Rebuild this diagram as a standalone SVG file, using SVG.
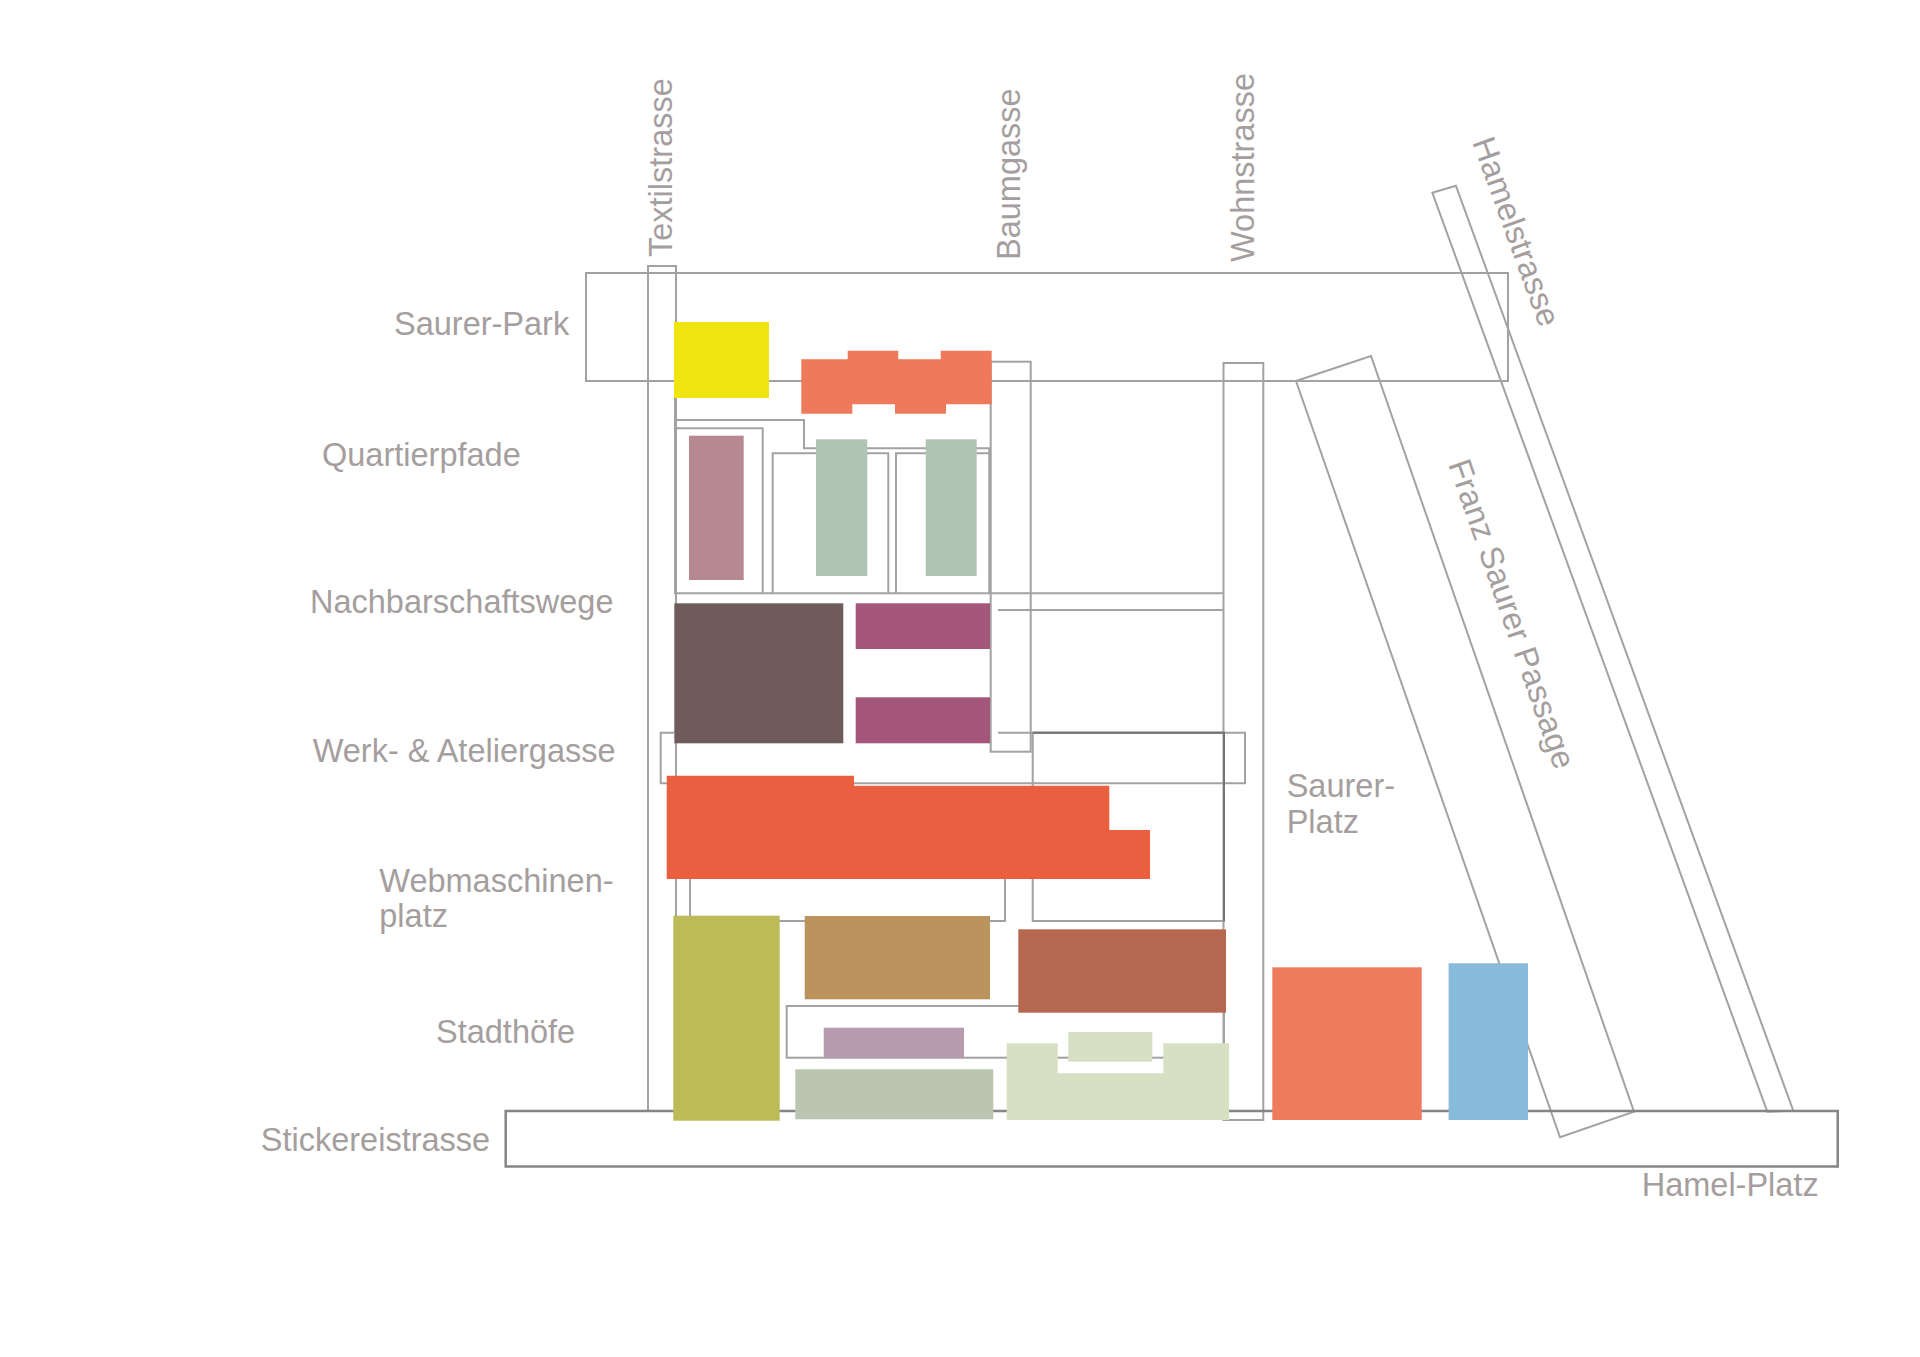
<svg xmlns="http://www.w3.org/2000/svg" width="1920" height="1357" viewBox="0 0 1920 1357">
<style>
.ln{fill:none;stroke:#a2a2a2;stroke-width:2}
.dk{fill:none;stroke:#737373;stroke-width:2}
.st{fill:none;stroke:#858585;stroke-width:2.5}
.lb{font-family:"Liberation Sans",Arial,sans-serif;font-size:32.5px;fill:#a59e9e}
</style>
<rect width="1920" height="1357" fill="#ffffff"/>
<g id="connectors">
  <rect id="saurer-park-area" class="ln" x="586" y="273" width="922" height="108"/>
  <rect id="textilstrasse-road" class="ln" x="648" y="266" width="28" height="845"/>
  <rect id="baumgasse-road" class="ln" x="990.7" y="361.7" width="40" height="390"/>
  <rect id="wohnstrasse-road" class="ln" x="1223.5" y="363" width="39.8" height="757"/>
  <path id="quartierpfade-a" class="ln" d="M675,398 V593.3 H1224"/>
  <path id="quartierpfade-b" class="ln" d="M675,428.3 V420 H804 V448.3 H989.3 V453.3"/>
  <path id="quartierpfade-c" class="ln" d="M675,428.3 H762.7 V593.3"/>
  <path id="quartierpfade-d" class="ln" d="M772.7,593.3 V453.3 H888.3 V593.3"/>
  <path id="quartierpfade-e" class="ln" d="M896,593.3 V453.3 H989.3 V593.3"/>
  <path id="nachbarschaftswege-path" class="ln" d="M998,610 H1224"/>
  <path id="werk-gasse" class="ln" d="M674,732.7 H660.7 V783.3 H1245 V732.7 H998"/>
  <path id="webmaschinenplatz-outline" class="ln" d="M690,879 V921 H1005 V879"/>
  <rect id="webmaschinenplatz-east" class="ln" x="1032.7" y="732.7" width="191.3" height="188.3"/>
  <path class="dk" d="M1032.7,732.7 H1224 V921"/>
  <rect id="stadthoefe-outline" class="ln" x="786.7" y="1006" width="437.3" height="51.7"/>
  <polygon id="franz-saurer-passage" class="ln" points="1296,381 1371,356 1634,1111.7 1560,1137.3"/>
  <polygon id="hamelstrasse-road" class="ln" points="1432.3,192.7 1455.9,185.7 1793.3,1110.7 1767.3,1111.7"/>
  <rect id="stickereistrasse-road" class="st" x="505.7" y="1111" width="1332" height="55.5"/>
</g>
<g id="block-yellow"><rect x="674" y="322" width="95" height="76" fill="#f0e511"/></g>
<g id="block-orange-top"><polygon fill="#ef7a5b" points="801.3,359.3 847.7,359.3 847.7,350.7 898.3,350.7 898.3,359.3 940.7,359.3 940.7,350.7 991.7,350.7 991.7,404.3 946,404.3 946,413.7 895,413.7 895,404.3 852.3,404.3 852.3,413.7 801.3,413.7"/></g>
<g id="block-mauve"><rect x="689" y="435.7" width="54.7" height="144.3" fill="#b5898f"/></g>
<g id="block-sage-1"><rect x="816" y="439.3" width="51.3" height="136.7" fill="#b1c4b1"/></g>
<g id="block-sage-2"><rect x="925.7" y="439.3" width="51" height="136.7" fill="#b1c4b1"/></g>
<g id="block-dark-brown"><rect x="674.3" y="603.3" width="169" height="140" fill="#6f5a5c"/></g>
<g id="block-purple-1"><rect x="855.7" y="603.3" width="134.3" height="45.7" fill="#a4577a"/></g>
<g id="block-purple-2"><rect x="855.7" y="697.3" width="134.3" height="46" fill="#a4577a"/></g>
<g id="block-red"><polygon fill="#e95f40" points="666.7,775.7 854,775.7 854,785.7 1109.3,785.7 1109.3,830 1150,830 1150,879 666.7,879"/></g>
<g id="block-olive"><rect x="673.3" y="915.7" width="106.4" height="205" fill="#bdbb57"/></g>
<g id="block-tan"><rect x="804.7" y="916" width="185.3" height="83.3" fill="#bb935d"/></g>
<g id="block-brick"><rect x="1018.3" y="929.3" width="207.7" height="83.4" fill="#b5674f"/></g>
<g id="block-pink"><rect x="823.7" y="1027.7" width="140.3" height="30" fill="#b89bae"/></g>
<g id="block-grey-green"><rect x="795.3" y="1069.3" width="198" height="50" fill="#bbc5b2"/></g>
<g id="block-light-green">
  <polygon fill="#d7e0c3" points="1006.7,1043.3 1057.7,1043.3 1057.7,1073.3 1163.3,1073.3 1163.3,1043.3 1229,1043.3 1229,1120 1006.7,1120"/>
  <rect x="1068.3" y="1032" width="84" height="29.7" fill="#d7e0c3"/>
</g>
<g id="block-orange-big"><rect x="1272.3" y="967.3" width="149.4" height="152.7" fill="#ef7b5d"/></g>
<g id="block-blue"><rect x="1448.6" y="963.3" width="79.4" height="156.7" fill="#88badb"/></g>
<g id="labels">
  <text class="lb" x="394" y="335">Saurer-Park</text>
  <text class="lb" x="322" y="466">Quartierpfade</text>
  <text class="lb" x="310" y="613.3">Nachbarschaftswege</text>
  <text class="lb" x="312.7" y="761.7">Werk- &amp; Ateliergasse</text>
  <text class="lb" x="379.3" y="891.7">Webmaschinen-</text>
  <text class="lb" x="379.3" y="927">platz</text>
  <text class="lb" x="436" y="1043">Stadthöfe</text>
  <text class="lb" x="260.8" y="1151">Stickereistrasse</text>
  <text class="lb" x="1286.7" y="797.3">Saurer-</text>
  <text class="lb" x="1286.7" y="833.3">Platz</text>
  <text class="lb" x="1641.7" y="1196">Hamel-Platz</text>
  <text class="lb" transform="translate(672,257) rotate(-90)">Textilstrasse</text>
  <text class="lb" transform="translate(1020,260) rotate(-90)">Baumgasse</text>
  <text class="lb" transform="translate(1254,262) rotate(-90)">Wohnstrasse</text>
  <text class="lb" transform="translate(1472,142) rotate(70)">Hamelstrasse</text>
  <text class="lb" transform="translate(1448,464) rotate(70.8)">Franz Saurer Passage</text>
</g>
</svg>
